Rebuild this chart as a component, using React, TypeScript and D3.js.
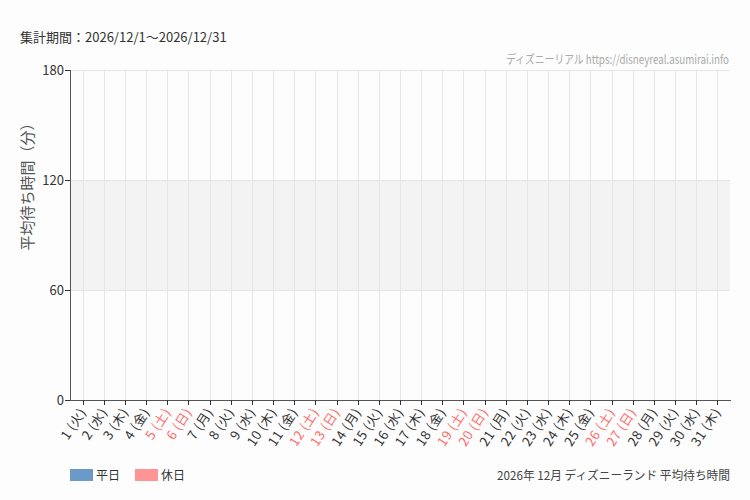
import React from "react";
import * as d3 from "d3";

const days: number[] = Array.from({ length: 31 }, (_, i) => i + 1);
const weekdayNames: string[] = [
  "火","水","木","金","土","日","月",
  "火","水","木","金","土","日","月",
  "火","水","木","金","土","日","月",
  "火","水","木","金","土","日","月",
  "火","水","木",
];
const holidayDays: number[] = [5, 6, 12, 13, 19, 20, 26, 27];
const waitValues: (number | null)[] = [
  null, null, null, null, null, null, null, null, null, null,
  null, null, null, null, null, null, null, null, null, null,
  null, null, null, null, null, null, null, null, null, null, null,
];
const yTicks: number[] = [0, 60, 120, 180];
const legendItems: string[] = ["平日", "休日"];

const W = 750;
const H = 500;
const margin = { left: 70, right: 20, top: 70, bottom: 100 };
const FONT = "'Noto Sans CJK JP', 'Noto Sans', sans-serif";

export default function App() {
  const x = d3
    .scaleBand<number>()
    .domain(days)
    .range([margin.left, W - margin.right])
    .padding(0.2);
  const y = d3.scaleLinear().domain([0, 180]).range([H - margin.bottom, margin.top]);
  const colW = "#6b9ac8";
  const colH = "#ff9494";
  const cx = (d: number) => (x(d) as number) + x.bandwidth() / 2;

  return (
    <div style={{ position: "absolute", left: 0, top: 0 }}>
      <svg width={W} height={H} style={{ display: "block", background: "#fcfdfc" }} fontFamily={FONT}>
        <rect x={0} y={0} width={W} height={H} fill="#fcfdfc" />
        <text x={20} y={42} fontSize={13} fill="#333">集計期間：2026/12/1～2026/12/31</text>
        <text transform="translate(729,64) scale(0.814,1)" fontSize={12} fill="#aaa" textAnchor="end">
          ディズニーリアル https://disneyreal.asumirai.info
        </text>
        {/* band 60-120 */}
        <rect x={margin.left} y={y(120)} width={W - margin.right - margin.left} height={y(60) - y(120)} fill="#f3f3f3" />
        {/* horizontal grid */}
        {yTicks.filter((t) => t > 0).map((t) => (
          <line key={t} x1={margin.left} x2={W - margin.right} y1={y(t) + 0.5} y2={y(t) + 0.5} stroke="#e6e6e6" />
        ))}
        {/* vertical grid */}
        {days.map((d) => (
          <line key={d} x1={Math.round(cx(d)) + 0.5} x2={Math.round(cx(d)) + 0.5} y1={margin.top} y2={y(0)} stroke="#e6e6e6" />
        ))}
        {/* bars */}
        {days.map((d, i) => {
          const v = waitValues[i];
          if (v == null) return null;
          return (
            <rect key={d} x={x(d)} y={y(v)} width={x.bandwidth()} height={y(0) - y(v)} fill={holidayDays.includes(d) ? colH : colW} />
          );
        })}
        {/* y axis */}
        <line x1={margin.left + 0.5} x2={margin.left + 0.5} y1={margin.top} y2={y(0)} stroke="#555" />
        {yTicks.map((t) => (
          <g key={t}>
            <line x1={margin.left - 5} x2={margin.left} y1={y(t) + 0.5} y2={y(t) + 0.5} stroke="#333" />
            <text x={margin.left - 6} y={y(t) + 4.5} fontSize={13} fill="#333" textAnchor="end">{t}</text>
          </g>
        ))}
        <text transform={`translate(33,183) rotate(-90)`} fontSize={15} fill="#555" textAnchor="middle">
          平均待ち時間（分）
        </text>
        {/* x axis */}
        <line x1={margin.left} x2={W - margin.right + 1} y1={y(0) + 0.5} y2={y(0) + 0.5} stroke="#555" />
        {days.map((d, i) => (
          <g key={d}>
            <line x1={Math.round(cx(d)) + 0.5} x2={Math.round(cx(d)) + 0.5} y1={y(0)} y2={y(0) + 5} stroke="#333" />
            <text
              transform={`translate(${cx(d) + 4},${y(0) + 12}) rotate(-57)`}
              fontSize={13}
              letterSpacing={0.5}
              textAnchor="end"
              fill={holidayDays.includes(d) ? "#ff6b6b" : "#333"}
            >
              {`${d} (${weekdayNames[i]})`}
            </text>
          </g>
        ))}
        {/* legend */}
        {legendItems.map((l, i) => (
          <g key={l} transform={`translate(${70 + i * 65},469)`}>
            <rect x={0} y={0} width={23} height={12} fill={i === 0 ? colW : colH} />
            <text x={26} y={11} fontSize={12} fill="#333">{l}</text>
          </g>
        ))}
        <text x={730} y={480} fontSize={12} fill="#444" textAnchor="end" textLength={233} lengthAdjust="spacingAndGlyphs">
          2026年 12月 ディズニーランド 平均待ち時間
        </text>
      </svg>
    </div>
  );
}
